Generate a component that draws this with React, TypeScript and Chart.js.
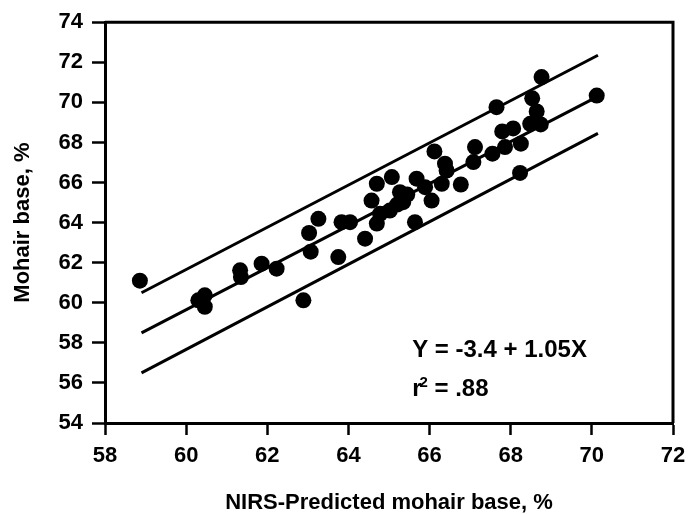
import { useEffect, useRef } from "react";
import { Chart, registerables } from "chart.js";
Chart.register(...registerables);

// NIRS-predicted mohair base (%) and measured mohair base (%)
const predicted = [58.86, 60.30, 60.46, 60.46, 61.33, 61.35, 61.86, 62.23, 62.89, 63.03, 63.07, 63.26, 63.75, 63.83, 64.04, 64.41, 64.70, 64.57, 64.70, 65.07, 65.27, 65.35, 65.02, 64.78, 65.45, 65.20, 65.64, 65.68, 66.05, 65.89, 66.12, 66.38, 66.30, 66.77, 66.42, 67.12, 67.08, 67.55, 67.65, 67.79, 67.86, 68.06, 68.25, 68.23, 68.53, 68.64, 68.48, 68.74, 68.76, 70.12];
const measured = [61.1, 60.12, 60.37, 59.8, 61.62, 61.28, 61.95, 61.70, 60.12, 63.48, 62.55, 64.19, 62.28, 64.02, 64.02, 63.2, 63.95, 65.1, 65.94, 66.27, 65.52, 65.02, 64.6, 64.44, 65.4, 64.9, 64.02, 66.19, 65.1, 65.77, 67.55, 66.94, 65.94, 65.9, 66.6, 67.77, 67.02, 67.44, 69.76, 68.55, 67.77, 68.7, 67.94, 66.48, 70.2, 69.55, 68.93, 68.9, 71.26, 70.34];

// regression line and its bands (end points)
const lineX = [58.9, 70.15];
const fitY = [58.5, 70.3];
const upperY = [60.5, 72.35];
const lowerY = [56.5, 68.45];

const equationText = "Y = -3.4 + 1.05X";
const r2Value = " = .88";

const FONT = '"Liberation Sans", Arial, sans-serif';

export default function App() {
  const ref = useRef<HTMLCanvasElement | null>(null);

  useEffect(() => {
    if (!ref.current) return;
    const pts = predicted.map((x, i) => ({ x, y: measured[i] }));
    const mk = (ys: number[]) => lineX.map((x, i) => ({ x, y: ys[i] }));

    const framePlugin = {
      id: "frameAndText",
      afterDatasetsDraw(chart: any) {
        const { ctx, chartArea, scales } = chart;
        ctx.save();
        ctx.strokeStyle = "#000";
        ctx.lineWidth = 3;
        ctx.beginPath();
        ctx.moveTo(chartArea.left, chartArea.top);
        ctx.lineTo(chartArea.right, chartArea.top);
        ctx.lineTo(chartArea.right, chartArea.bottom);
        ctx.stroke();

        const x0 = scales.x.getPixelForValue(65.57);
        const y1 = scales.y.getPixelForValue(57.28);
        const y2 = scales.y.getPixelForValue(55.33);
        ctx.fillStyle = "#000";
        ctx.textBaseline = "alphabetic";
        ctx.textAlign = "left";
        ctx.font = `bold 24px ${FONT}`;
        ctx.fillText(equationText, x0, y1);
        ctx.fillText("r", x0, y2);
        const rw = ctx.measureText("r").width;
        ctx.font = `bold 15px ${FONT}`;
        ctx.fillText("2", x0 + rw - 2, y2 - 9);
        const tw = ctx.measureText("2").width;
        ctx.font = `bold 24px ${FONT}`;
        ctx.fillText(r2Value, x0 + rw - 2 + tw, y2);
        ctx.restore();
      },
    };

    const chart = new Chart(ref.current, {
      type: "scatter",
      data: {
        datasets: [
          { data: mk(upperY), showLine: true, borderColor: "#000", borderWidth: 3, pointRadius: 0 } as any,
          { data: mk(fitY), showLine: true, borderColor: "#000", borderWidth: 3, pointRadius: 0 } as any,
          { data: mk(lowerY), showLine: true, borderColor: "#000", borderWidth: 3, pointRadius: 0 } as any,
          { data: pts, backgroundColor: "#000", borderWidth: 0, pointRadius: 8, pointHoverRadius: 8 } as any,
        ],
      },
      options: {
        animation: false,
        responsive: true,
        maintainAspectRatio: false,
        layout: { padding: { left: 0, right: 26, top: 22, bottom: 0 } },
        plugins: { legend: { display: false }, tooltip: { enabled: false } },
        scales: {
          x: {
            type: "linear",
            min: 58,
            max: 72,
            afterFit: (s: any) => { s.height = 91; },
            ticks: { stepSize: 2, color: "#000", padding: 8, font: { family: FONT, size: 22, weight: "bold" } },
            grid: { drawOnChartArea: false, drawTicks: true, tickLength: 12, tickWidth: 2.5, tickColor: "#000" },
            border: { display: true, color: "#000", width: 3 },
            title: {
              display: true,
              text: "NIRS-Predicted mohair base, %",
              color: "#000",
              padding: { top: 0, bottom: 0 },
              font: { family: FONT, size: 22, weight: "bold", lineHeight: 1 },
            },
          },
          y: {
            type: "linear",
            min: 54,
            max: 74,
            afterFit: (s: any) => { s.width = 105; },
            ticks: { stepSize: 2, color: "#000", padding: 9, font: { family: FONT, size: 22, weight: "bold" } },
            grid: { drawOnChartArea: false, drawTicks: true, tickLength: 13, tickWidth: 2.5, tickColor: "#000" },
            border: { display: true, color: "#000", width: 3 },
            title: {
              display: true,
              text: "Mohair base, %",
              color: "#000",
              padding: { top: 11.5, bottom: 0 },
              font: { family: FONT, size: 22, weight: "bold", lineHeight: 1 },
            },
          },
        },
      } as any,
      plugins: [framePlugin],
    });
    return () => chart.destroy();
  }, []);

  return (
    <div style={{ position: "fixed", left: 0, top: 0, width: 699, height: 514, background: "#fff" }}>
      <canvas ref={ref} />
    </div>
  );
}
